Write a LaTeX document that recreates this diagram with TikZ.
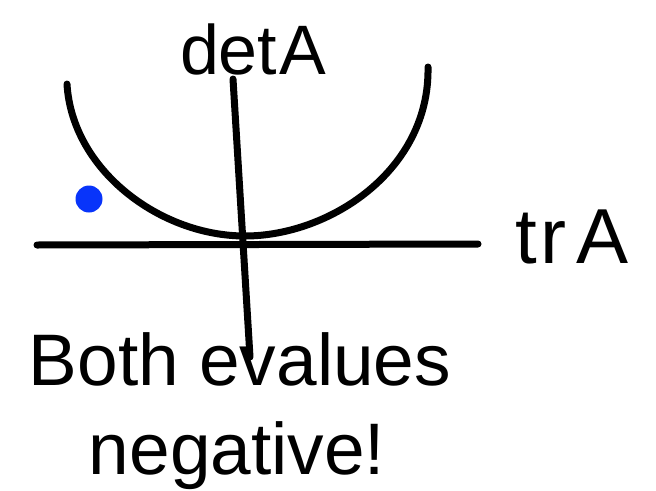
\documentclass[tikz,border=0pt]{standalone}
\usepackage{fontspec}
\setmainfont{Liberation Sans}
\definecolor{dotblue}{RGB}{8,52,250}
\begin{document}
\begin{tikzpicture}[x=1pt, y=-1pt,
  pen/.style={line width=7pt, line cap=round, line join=round},
  hand/.style={font=\fontsize{70}{70}\selectfont, anchor=base, inner sep=0pt},
  caption/.style={font=\fontsize{73}{88}\selectfont, anchor=base, inner sep=0pt}
]
  \useasboundingbox (0,0) rectangle (656,490);

  % caption under the axes
  \node[caption] (both) at (240,385) {Both evalues};
  \node[caption] (neg) at (237,474) {negative!};

  % axes
  \coordinate (xl) at (37,245);
  \coordinate (xr) at (478,244);
  \coordinate (yt) at (233,79);
  \coordinate (yb) at (250,357);
  \draw[pen] (xl) -- (xr);
  \draw[pen] (yt) -- (yb);

  % labels
  \node[hand] (det) at (253,74) {det\kern2pt A};
  \node[hand, font=\fontsize{78}{78}\selectfont] (tr) at (572,263) {t\kern4pt r\kern10pt A};

  % the curve det = tr^2/4
  \coordinate (lt) at (67,84);
  \coordinate (vx) at (245,236);
  \coordinate (rt) at (428,67);
  \draw[pen] (lt) .. controls (72,170) and (160,236) .. (vx)
                  .. controls (330,236) and (430,170) .. (rt);

  % the point
  \node[circle, fill=dotblue, minimum size=27pt, inner sep=0pt] (pt) at (89,199) {};
\end{tikzpicture}
\end{document}
